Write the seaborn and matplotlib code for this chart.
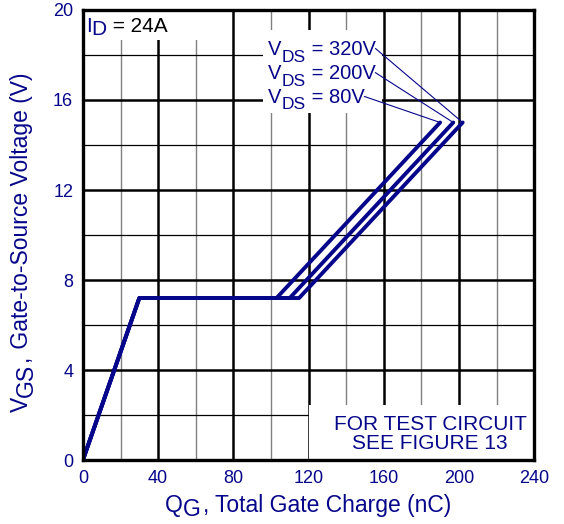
import pandas as pd
import numpy as np
import matplotlib
matplotlib.use('Agg')
import matplotlib.pyplot as plt
from matplotlib.patches import Rectangle
import seaborn as sns

# gate charge curves (Q_G in nC, V_GS in V)
vds_labels = ['80V', '200V', '320V']
qg_80 = [0, 30, 103, 190]
qg_200 = [0, 30, 110, 197]
qg_320 = [0, 30, 115, 202]
vgs = [0, 7.2, 7.2, 15.0]

x_ticks = [0, 40, 80, 120, 160, 200, 240]
y_ticks = [0, 4, 8, 12, 16, 20]

navy = '#06068a'

sns.set_style('white')
plt.rcParams['font.family'] = ['Liberation Sans', 'DejaVu Sans']


def chain_text(ax, first, parts, rotated=False):
  # glue text pieces one after another
  # each piece: (text, drop in pt, size, colour, gap in pt)
  prev = first
  prev_drop = parts[0][1]
  for s, drop, size, col, gap in parts[1:]:
    d = drop - prev_drop
    if rotated:
      prev = ax.annotate(s, xy=(1, 1), xycoords=prev, xytext=(d, gap),
                         textcoords='offset points', ha='right', va='bottom',
                         rotation=90, fontsize=size, color=col, zorder=7,
                         annotation_clip=False)
    else:
      prev = ax.annotate(s, xy=(1, 0), xycoords=prev, xytext=(gap, -d),
                         textcoords='offset points', ha='left', va='bottom',
                         fontsize=size, color=col, zorder=7, annotation_clip=False)
    prev_drop = drop
  return prev


data = pd.DataFrame({
  'Qg': qg_80 + qg_200 + qg_320,
  'Vgs': vgs * 3,
  'Vds': np.repeat(vds_labels, len(vgs))
})

fig = plt.figure(figsize=(5.64, 5.24), dpi=100)
ax = fig.add_axes([0.147, 0.122, 0.8, 0.859])

sns.lineplot(data=data, x='Qg', y='Vgs', hue='Vds', sort=False, estimator=None,
             palette=[navy] * 3, linewidth=2.8, legend=False, ax=ax, zorder=5)

ax.set_xlim(0, 240)
ax.set_ylim(0, 20)
ax.set_xticks(x_ticks)
ax.set_xticks(np.arange(20, 240, 40), minor=True)
ax.set_yticks(y_ticks)
ax.set_yticks(np.arange(2, 20, 4), minor=True)

# grid: thick black majors, thin minors
ax.grid(which='major', color='black', linewidth=1.8)
ax.xaxis.grid(which='minor', color='#808080', linewidth=1.0)
ax.yaxis.grid(which='minor', color='black', linewidth=0.9)
ax.set_axisbelow(True)
for s in ax.spines.values():
  s.set_color('black')
  s.set_linewidth(2.4)
  s.set_zorder(6)

ax.tick_params(which='both', length=0, labelsize=13, labelcolor=navy, pad=7)
ax.set_xlabel('')
ax.set_ylabel('')

# white patches that hide the grid behind the notes
for (x0, y0, w, h) in [(0, 18.67, 76, 1.33), (95.7, 15.4, 63.3, 3.7), (120, 0, 120, 2.44)]:
  ax.add_patch(Rectangle((x0, y0), w, h, facecolor='white', edgecolor='none', zorder=1.5))

# axis titles with full-size subscripts
t = ax.text(0.1817, -0.116, 'Q', transform=ax.transAxes, fontsize=16.5, color=navy,
            va='baseline', clip_on=False)
chain_text(ax, t, [('Q', 0, 16.5, navy, 0), ('G', 3, 16.5, navy, 0),
                   (',', 0, 16.5, navy, 1.5), (' Total Gate Charge (nC)', 0, 16.5, navy, 0)])

t = ax.text(-0.11, 0.107, 'V', transform=ax.transAxes, fontsize=16.5, color=navy,
            rotation=90, ha='right', va='bottom', clip_on=False)
chain_text(ax, t, [('V', 0, 16.5, navy, 0), ('GS', 3, 16.5, navy, 0),
                   (',', 0, 16.5, navy, 1.5), (' Gate-to-Source Voltage (V)', 0, 16.5, navy, 0)],
           rotated=True)

# I_D label in the top left corner
t = ax.text(1.6, 19.02, 'I', fontsize=15, color=navy, va='baseline', zorder=7)
chain_text(ax, t, [('I', 0, 15, navy, 0), ('D', 2, 15, navy, 0), (' = 24A', 0, 15, 'black', 0)])

# V_DS labels with leader lines to curve ends
curve_ends = [(qg_80[-1], vgs[-1]), (qg_200[-1], vgs[-1]), (qg_320[-1], vgs[-1])]
label_y = [15.87, 16.93, 18.0]
for lab, end, ly in zip(vds_labels, curve_ends, label_y):
  t = ax.text(98.5, ly, 'V', fontsize=14.5, color=navy, va='baseline', zorder=7)
  last = chain_text(ax, t, [('V', 0, 14.5, navy, 0), ('DS', 4, 12.5, navy, 0),
                            (' = ' + lab, 0, 14.5, navy, 0)])
  ax.annotate('', xy=end, xycoords='data', xytext=(1.0, 0.55), textcoords=last,
              arrowprops=dict(arrowstyle='-', color=navy, lw=0.8,
                              shrinkA=0, shrinkB=0), zorder=7)

ax.text(184.6, 1.18, 'FOR TEST CIRCUIT\nSEE FIGURE 13', fontsize=15, color=navy,
        ha='center', va='center', linespacing=1.0, zorder=7)

fig.savefig('out.png', dpi=100)
